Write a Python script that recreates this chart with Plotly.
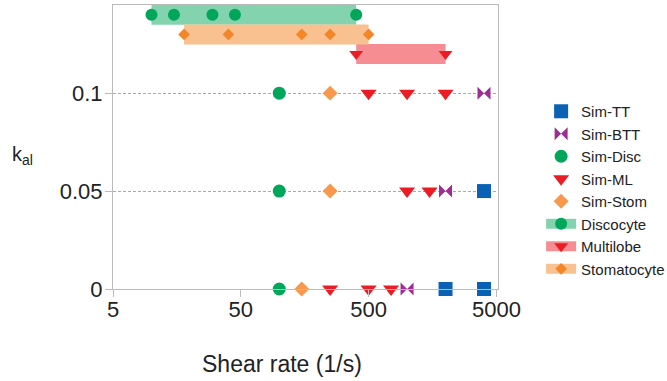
import plotly.graph_objects as go

# ---- data ----
tt_x = [2000, 4000, 4000]
tt_y = [0, 0, 0.05]
btt_x = [1000, 2000, 4000]
btt_y = [0, 0.05, 0.1]
disc_x = [100, 100, 100]
disc_y = [0, 0.05, 0.1]
ml_x = [250, 500, 750, 1000, 1500, 500, 1000, 2000]
ml_y = [0, 0, 0, 0.05, 0.05, 0.1, 0.1, 0.1]
stom_x = [150, 250, 250]
stom_y = [0, 0.05, 0.1]

discocyte_x = [10, 15, 30, 45, 400]
discocyte_y = [0.14, 0.14, 0.14, 0.14, 0.14]
multilobe_x = [400, 2000]
multilobe_y = [0.12, 0.12]
stomatocyte_x = [18, 40, 150, 250, 500]
stomatocyte_y = [0.13, 0.13, 0.13, 0.13, 0.13]

x_tickvals = [5, 50, 500, 5000]
x_ticktext = ["5", "50", "500", "5000"]
y_tickvals = [0, 0.05, 0.1]
y_ticktext = ["0", "0.05", "0.1"]

BLUE = "#0B62B4"
PURPLE = "#9B2D93"
GREEN = "#00A659"
RED = "#EC1C24"
ORANGE_SIM = "#F8984C"
ORANGE = "#F4862A"

fig = go.Figure()

def sim(name, x, y, symbol, color, size, rank):
    fig.add_trace(go.Scatter(
        x=x, y=y, mode="markers", name=name, legendrank=rank,
        marker=dict(symbol=symbol, color=color, size=size),
        cliponaxis=False))

def band(name, x, y, symbol, color, light, size, rank):
    fig.add_trace(go.Scatter(
        x=x, y=y, mode="lines+markers", name=name, legendrank=rank,
        line=dict(color=light, width=20),
        marker=dict(symbol=symbol, color=color, size=size),
        cliponaxis=True))

band("Discocyte", discocyte_x, discocyte_y, "circle", GREEN, "#83D3AE", 12, 6)
band("Multilobe", multilobe_x, multilobe_y, "triangle-down", RED, "#F68D93", 12, 7)
band("Stomatocyte", stomatocyte_x, stomatocyte_y, "diamond", ORANGE, "#F8C18F", 9, 8)

sim("Sim-TT", tt_x, tt_y, "square", BLUE, 14, 1)
sim("Sim-BTT", btt_x, btt_y, "bowtie", PURPLE, 13, 2)
sim("Sim-Disc", disc_x, disc_y, "circle", GREEN, 13, 3)
sim("Sim-ML", ml_x, ml_y, "triangle-down", RED, 14, 4)
sim("Sim-Stom", stom_x, stom_y, "diamond", ORANGE_SIM, 11.5, 5)

FONT = "Liberation Sans, Arial, sans-serif"

fig.update_layout(
    width=667, height=381,
    margin=dict(l=113, r=169, t=5, b=92, autoexpand=False),
    plot_bgcolor="white", paper_bgcolor="white",
    font=dict(family=FONT, color="#222222"),
    showlegend=True,
    legend=dict(x=1.112, xanchor="left", y=0.683, yanchor="top",
                font=dict(size=15, family=FONT, color="#222222"),
                bgcolor="rgba(0,0,0,0)", itemwidth=30, tracegroupgap=0),
    xaxis=dict(type="log", range=[0.699, 3.7115],
               tickvals=x_tickvals, ticktext=x_ticktext,
               tickfont=dict(size=22), showgrid=False,
               showline=True, linecolor="#BBBBBB", linewidth=1, mirror=True,
               ticks="outside", ticklen=7, tickcolor="#BBBBBB", zeroline=False,
               ticklabelstandoff=-6),
    yaxis=dict(range=[0, 0.145], tickvals=y_tickvals, ticktext=y_ticktext,
               tickfont=dict(size=22), showgrid=True, gridcolor="#AAAAAA",
               griddash="3px,2px", gridwidth=1,
               showline=True, linecolor="#BBBBBB", linewidth=1, mirror=True,
               ticks="outside", ticklen=7, tickcolor="#BBBBBB", zeroline=False,
               ticklabelstandoff=-2),
    annotations=[
        dict(text="Shear rate (1/s)", xref="paper", yref="paper",
             x=0.44, y=-0.264, xanchor="center", yanchor="middle",
             showarrow=False, font=dict(size=23, family=FONT, color="#222222")),
        dict(text="k<sub>al</sub>", xref="paper", yref="paper",
             x=-0.235, y=0.47, xanchor="center", yanchor="middle",
             showarrow=False, font=dict(size=20, family=FONT, color="#222222")),
    ],
)

fig.write_html("out.html", config={"displayModeBar": False},
               post_script="document.body.style.margin='0';document.body.style.padding='0';")
